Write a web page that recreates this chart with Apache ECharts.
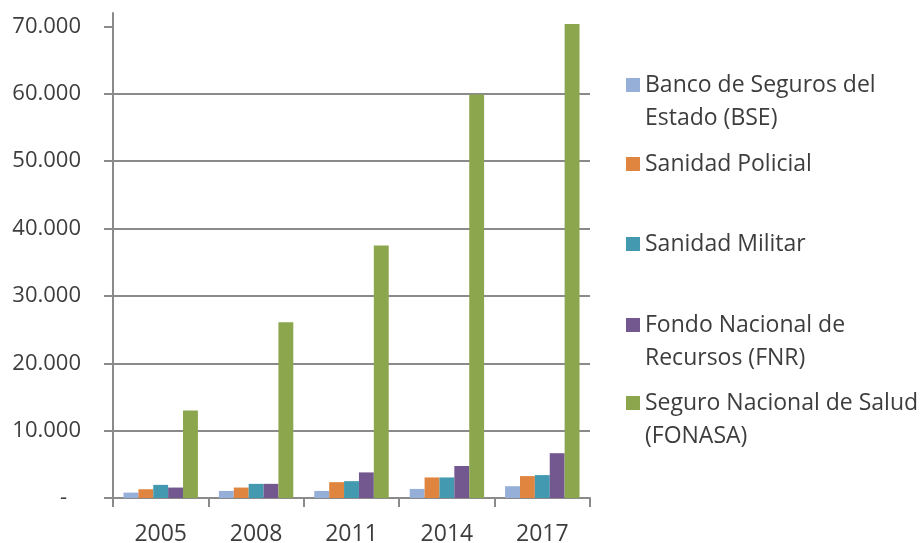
<!DOCTYPE html>
<html>
<head>
<meta charset="utf-8">
<script src="https://cdn.jsdelivr.net/npm/echarts@6/dist/echarts.min.js"></script>
<style>
  html, body { margin: 0; padding: 0; background: #fff; }
  #chart { width: 920px; height: 543px; }
</style>
</head>
<body>
<div id="chart"></div>
<script>
// datos
var years = ['2005', '2008', '2011', '2014', '2017'];
var bse      = [800, 1050, 1050, 1350, 1750];
var policial = [1300, 1550, 2350, 3050, 3250];
var militar  = [1950, 2100, 2500, 3050, 3400];
var fnr      = [1550, 2100, 3800, 4750, 6650];
var fonasa   = [13000, 26100, 37500, 59900, 70350];
var yTicks   = [0, 10000, 20000, 30000, 40000, 50000, 60000, 70000];

var seriesNames = [
  'Banco de Seguros del\nEstado (BSE)',
  'Sanidad Policial',
  'Sanidad Militar',
  'Fondo Nacional de\nRecursos (FNR)',
  'Seguro Nacional de Salud\n(FONASA)'
];
var seriesData = [bse, policial, militar, fnr, fonasa];
var colors = ['#95AFD8', '#E0853F', '#4299B0', '#72588F', '#8BA64C'];

var FONT = '"Open Sans", "Noto Sans", sans-serif';
var TXT = '#3d3d3d';
var GRID = '#8a8a8a';
var LH = 33;

function fmtNum(v) {
  if (v === 0) return '{d|-}';
  var s = String(Math.round(v));
  return s.replace(/\B(?=(\d{3})+(?!\d))/g, '.');
}

// leyenda: una por elemento; el cuadro va alineado con la primera linea
var legendCenters = [85, 164, 244, 325, 403];
var legends = seriesNames.map(function (n, i) {
  var twoLines = n.indexOf('\n') >= 0;
  var h = twoLines ? LH * 3 : LH;
  return {
    data: [n],
    orient: 'vertical',
    left: 626,
    top: legendCenters[i] - h / 2,
    padding: 0,
    itemWidth: 14,
    itemHeight: 14,
    itemGap: 0,
    icon: 'rect',
    formatter: function (name) {
      return name.indexOf('\n') >= 0 ? ' \n' + name : name;
    },
    textStyle: {
      fontFamily: FONT,
      fontSize: 23,
      color: TXT,
      lineHeight: LH
    },
    selectedMode: false
  };
});

var series = seriesNames.map(function (n, i) {
  return {
    name: n,
    type: 'bar',
    data: seriesData[i],
    barGap: 0,
    barCategoryGap: '22%',
    itemStyle: { color: colors[i] },
    emphasis: { disabled: true }
  };
});

var chart = echarts.init(document.getElementById('chart'));
chart.setOption({
  animation: false,
  color: colors,
  legend: legends,
  grid: { left: 113, right: 330, top: 13, bottom: 45, containLabel: false, outerBoundsMode: 'none' },
  xAxis: {
    type: 'category',
    data: years,
    axisLine: { lineStyle: { color: GRID, width: 2 } },
    axisTick: { show: true, length: 9, alignWithLabel: false, lineStyle: { color: GRID, width: 2 } },
    axisLabel: { fontFamily: FONT, fontSize: 23, color: TXT, margin: 25 }
  },
  yAxis: {
    type: 'value',
    min: 0,
    max: 72000,
    interval: 10000,
    axisLine: { show: true, lineStyle: { color: GRID, width: 2 } },
    axisTick: { show: true, length: 9, customValues: yTicks, lineStyle: { color: GRID, width: 2 } },
    axisLabel: {
      customValues: yTicks,
      fontFamily: FONT, fontSize: 22, color: TXT, margin: 32,
      formatter: fmtNum,
      rich: { d: { fontFamily: FONT, fontSize: 22, color: TXT, padding: [0, 14, 0, 0] } }
    },
    splitLine: { show: true, showMaxLine: false, lineStyle: { color: GRID, width: 2 } }
  },
  series: series
});
</script>
</body>
</html>
